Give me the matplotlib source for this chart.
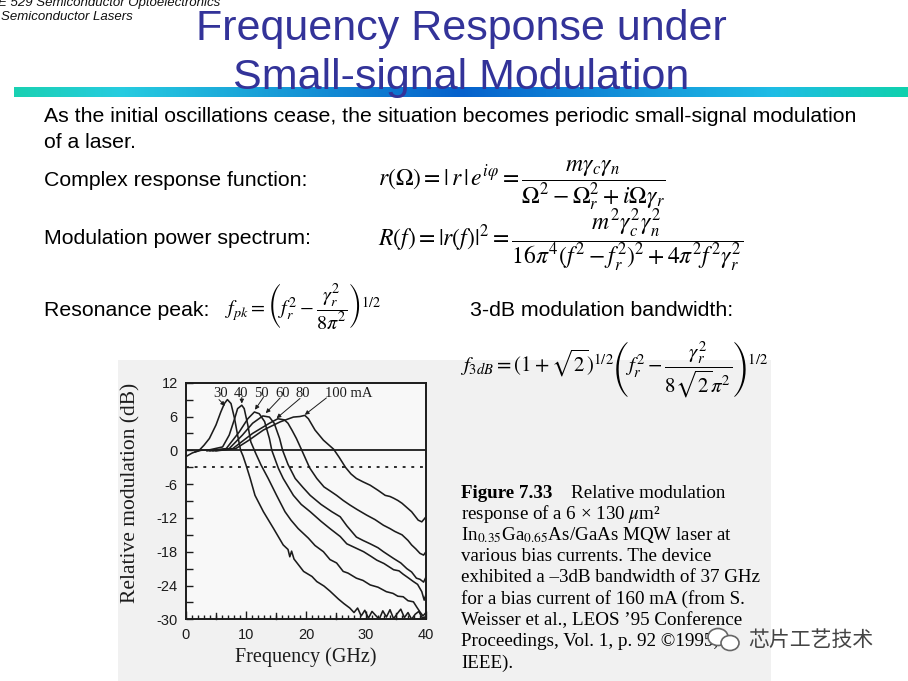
import numpy as np
import matplotlib
matplotlib.use("Agg")
import matplotlib.pyplot as plt
from matplotlib.patches import Rectangle, Ellipse
from matplotlib.ticker import FixedLocator, MultipleLocator

plt.rcParams['mathtext.fontset'] = 'stix'

# ---------------- data ----------------
currents = ["30", "40", "50", "60", "80", "100 mA"]

freq_30 = [0.0, 1.0, 2.2, 3.0, 3.9, 5.0, 5.8, 6.4, 6.9, 7.5, 8.1, 8.6, 9.1, 9.5, 10.0,
           10.7, 11.5, 12.9, 14.6, 16.2, 17.0, 17.3, 17.6, 18.0, 19.6, 21.0, 21.8, 23.0,
           24.0, 25.4, 26.3, 27.3, 28.0, 28.6, 29.2, 29.8, 30.4, 31.0, 31.6, 32.2, 32.8,
           33.4, 34.0, 34.6, 35.2, 35.8, 36.4, 37.0, 37.6, 38.2, 38.8, 39.4, 40.0]
db_30 = [-1.1, -0.5, 0.0, 0.9, 2.1, 4.5, 6.8, 8.3, 9.0, 8.3, 5.6, 2.7, 0.0, -1.0, -2.6,
         -5.0, -8.0, -10.9, -13.9, -16.8, -17.6, -18.9, -17.9, -19.3, -21.5, -22.4, -23.3,
         -24.1, -25.0, -26.4, -27.2, -28.0, -28.8, -28.0, -29.4, -28.4, -29.8, -28.6, -29.3,
         -30.0, -28.5, -29.6, -28.3, -29.9, -29.0, -28.2, -29.7, -28.8, -30.0, -29.1, -28.6,
         -29.8, -29.5]

freq_40 = [1.5, 2.5, 4.0, 6.1, 7.2, 8.1, 8.6, 9.3, 9.7, 10.3, 10.8, 11.6, 12.5, 13.7, 15.1,
           16.5, 17.5, 18.7, 20.4, 21.5, 22.9, 24.0, 25.1, 26.2, 27.0, 28.4, 29.5, 30.7,
           32.0, 33.4, 34.5, 35.3, 36.2, 37.0, 37.9, 38.5, 39.0, 39.5, 40.0]
db_40 = [-0.3, 0.0, 0.1, 0.6, 2.7, 5.6, 7.4, 8.0, 7.4, 4.5, 1.5, -0.5, -2.6, -5.0, -8.0,
         -10.9, -12.4, -13.9, -15.6, -16.9, -18.0, -19.4, -20.0, -21.5, -21.8, -22.7, -23.1,
         -23.9, -24.3, -25.1, -25.4, -25.9, -26.0, -26.7, -26.9, -27.9, -28.7, -29.4, -28.8]

freq_50 = [3.5, 6.7, 8.9, 10.3, 11.4, 12.2, 13.1, 13.9, 14.3, 15.4, 16.2, 17.9, 19.2, 20.7,
           22.5, 24.0, 25.7, 26.8, 28.0, 29.6, 30.8, 31.8, 33.0, 34.6, 35.5, 36.2, 37.0,
           37.9, 38.6, 39.3, 39.7, 40.0]
db_50 = [-0.1, 0.3, 3.3, 5.6, 6.8, 6.5, 5.1, 2.1, 0.0, -3.2, -5.0, -8.0, -9.6, -10.9,
         -12.6, -13.9, -15.3, -16.6, -17.2, -18.0, -18.8, -19.5, -20.1, -21.2, -21.4, -22.0,
         -22.6, -23.3, -23.8, -25.1, -26.6, -25.6]

freq_60 = [4.0, 7.2, 9.4, 11.1, 12.8, 13.9, 14.7, 15.6, 16.1, 17.0, 18.2, 19.5, 20.7, 22.5,
           24.3, 25.7, 26.8, 28.4, 29.5, 30.7, 32.0, 32.9, 34.6, 35.8, 36.8, 37.6, 38.4,
           39.0, 39.6, 40.0]
db_60 = [-0.1, 0.3, 2.7, 4.8, 6.1, 5.9, 4.8, 2.1, 0.0, -2.5, -5.0, -6.6, -8.0, -9.6,
         -10.9, -11.8, -13.4, -15.4, -16.0, -16.6, -17.3, -18.0, -19.2, -20.0, -21.0, -21.6,
         -22.7, -22.9, -23.4, -22.5]

freq_80 = [4.5, 7.8, 11.1, 13.9, 15.3, 16.4, 17.0, 17.7, 18.4, 19.3, 20.6, 21.8, 23.0, 24.0,
           25.1, 26.2, 27.3, 28.5, 30.1, 31.5, 32.9, 34.0, 34.8, 36.0, 37.0, 37.6, 38.3,
           39.0, 39.6, 40.0]
db_80 = [-0.1, 0.3, 3.0, 4.8, 5.6, 5.4, 4.8, 3.5, 2.1, 0.0, -3.1, -5.0, -6.5, -7.2, -8.0,
         -8.9, -9.7, -10.5, -11.5, -12.3, -13.3, -13.9, -14.4, -15.0, -16.0, -16.8, -17.5,
         -18.3, -18.6, -18.0]

freq_100 = [5.0, 8.3, 10.5, 12.9, 15.7, 17.9, 19.0, 19.8, 20.4, 21.5, 22.9, 24.6, 25.5, 26.6,
            27.5, 28.4, 29.5, 30.7, 32.0, 33.2, 34.0, 34.6, 35.3, 36.0, 37.6, 38.7, 39.3,
            39.7, 40.0]
db_100 = [-0.1, 0.3, 1.8, 3.6, 5.05, 5.9, 6.0, 6.2, 5.6, 3.6, 1.8, 0.2, -1.2, -3.05, -4.2,
          -5.0, -5.6, -6.2, -7.1, -8.0, -8.2, -8.5, -8.9, -9.4, -10.9, -12.4, -12.7, -12.2,
          -11.8]

# label positions (GHz, dB) and arrow tips
label_x = [5.7, 9.1, 12.6, 16.1, 19.4, 23.2]
arrow_start = [(5.5, 9.0), (9.3, 9.4), (12.9, 9.4), (15.7, 9.3), (19.0, 9.2), (23.4, 9.3)]
arrow_end = [(6.5, 7.9), (9.3, 8.3), (11.5, 7.2), (13.3, 6.6), (15.1, 5.7), (19.8, 6.3)]

yticks = [12, 6, 0, -6, -12, -18, -24, -30]
xticks = [0, 10, 20, 30, 40]

caption_lines = [
    "response of a 6 \u00d7 130 $\\mu$m\u00b2",
    "In$_{0.35}$Ga$_{0.65}$As/GaAs MQW laser at",
    "various bias currents. The device",
    "exhibited a \u20133dB bandwidth of 37 GHz",
    "for a bias current of 160 mA (from S.",
    "Weisser et al., LEOS \u201995 Conference",
    "Proceedings, Vol. 1, p. 92 \u00a91995,",
    "IEEE).",
]

# ---------------- figure ----------------
W, H = 908, 681
fig = plt.figure(figsize=(W / 100, H / 100), dpi=100)
fig.patch.set_facecolor('white')

bg = fig.add_axes([0, 0, 1, 1], zorder=0)
bg.axis('off')

# scanned page area
bg.add_patch(Rectangle((118, 360), 653, 321, facecolor='#f1f1f1', edgecolor='none'))

# gradient bar
nodes_x = [0.0, 0.12, 0.5, 0.85, 1.0]
nodes_c = [(0.10, 0.82, 0.70), (0.15, 0.80, 0.88), (0.02, 0.38, 0.80),
           (0.12, 0.74, 0.90), (0.06, 0.82, 0.68)]
t = np.linspace(0, 1, 400)
grad = np.zeros((1, 400, 3))
for k in range(3):
    grad[0, :, k] = np.interp(t, nodes_x, [c[k] for c in nodes_c])
bg.imshow(grad, extent=(14, 908, 97, 87), aspect='auto', zorder=1)
bg.set_xlim(0, W)
bg.set_ylim(H, 0)

sans = 'Liberation Sans'
serif = 'Liberation Serif'

bg.text(-2, 3, "E 529 Semiconductor Optoelectronics", fontsize=9.5, style='italic',
        family=sans, va='center', ha='left', color='#111111')
bg.text(1, 17, "Semiconductor Lasers", fontsize=9.5, style='italic',
        family=sans, va='center', ha='left', color='#111111')

bg.text(461, 40, "Frequency Response under", fontsize=31, family=sans,
        color='#333399', ha='center', va='baseline', zorder=4)
bg.text(461, 89, "Small-signal Modulation", fontsize=31, family=sans,
        color='#333399', ha='center', va='baseline', zorder=4)

body = 15.3
bg.text(44, 117, "As the initial oscillations cease, the situation becomes periodic small-signal modulation",
        fontsize=body, family=sans, va='center', ha='left')
bg.text(44, 142, "of a laser.", fontsize=body, family=sans, va='center', ha='left')
bg.text(44, 180, "Complex response function:", fontsize=body, family=sans, va='center')
bg.text(44, 238, "Modulation power spectrum:", fontsize=body, family=sans, va='center')
bg.text(44, 311, "Resonance peak:", fontsize=body, family=sans, va='center')
bg.text(470, 311, "3-dB modulation bandwidth:", fontsize=body, family=sans, va='center')

bg.text(378, 185, r"$r(\Omega) = |\,r\,|\,e^{i\varphi} = \dfrac{m\gamma_c\gamma_n}{\Omega^2-\Omega_r^2+i\Omega\gamma_r}$",
        fontsize=17, va='center', ha='left')
bg.text(378, 241, r"$R(f) = |r(f)|^2 = \dfrac{m^2\gamma_c^2\gamma_n^2}{16\pi^4(f^2-f_r^2)^2+4\pi^2 f^2\gamma_r^2}$",
        fontsize=17, va='center', ha='left')
bg.text(225, 306, r"$f_{pk} = \left(f_r^2 - \dfrac{\gamma_r^2}{8\pi^2}\right)^{1/2}$",
        fontsize=14.5, va='center', ha='left')
bg.text(460, 370, r"$f_{3dB} = (1+\sqrt{2})^{1/2}\left(f_r^2 - \dfrac{\gamma_r^2}{8\sqrt{2}\pi^2}\right)^{1/2}$",
        fontsize=15, va='center', ha='left')

# caption
cap = 13.7
bg.text(461, 493, "Figure 7.33", fontsize=cap, family=serif, weight='bold', va='center')
bg.text(571, 493, "Relative modulation", fontsize=cap, family=serif, va='center')
for i, line in enumerate(caption_lines):
    bg.text(461, 514 + i * 21.3, line, fontsize=cap, family=serif, va='center')

# watermark
bg.add_patch(Ellipse((718, 637), 20, 17, facecolor='white', edgecolor='#666666', lw=1.2, zorder=3))
bg.add_patch(Ellipse((730, 643), 18, 15, facecolor='white', edgecolor='#666666', lw=1.2, zorder=3))
bg.text(748, 640, "芯片工艺技术", fontsize=15, family=['Noto Sans CJK SC', 'DejaVu Sans'],
        color='#444444', va='center', ha='left', zorder=3)

# ---------------- chart ----------------
x0, x1, y0, y1 = 186, 426, 382.7, 619.3
ax = fig.add_axes([x0 / W, (H - y1) / H, (x1 - x0) / W, (y1 - y0) / H], zorder=2)
ax.set_facecolor('#f8f8f8')
ink = '#1c1c1c'

series = [(freq_30, db_30), (freq_40, db_40), (freq_50, db_50),
          (freq_60, db_60), (freq_80, db_80), (freq_100, db_100)]
for f, d in series:
    ax.plot(f, d, color=ink, lw=1.15, solid_joinstyle='round', clip_on=True)

ax.axhline(0, color=ink, lw=1.3)
ax.axhline(-3, color=ink, lw=1.3, ls=(0, (1.6, 3.2)))

ax.set_xlim(0, 40)
ax.set_ylim(-30, 12)

for lbl, lx in zip(currents, label_x):
    ha = 'left' if 'mA' in lbl else 'center'
    ax.text(lx, 10.1, lbl, fontsize=10.5, family=serif, ha=ha, va='center', color=ink)
for s, e in zip(arrow_start, arrow_end):
    ax.annotate("", xy=e, xytext=s,
                arrowprops=dict(arrowstyle='-|>', color=ink, lw=0.7,
                                mutation_scale=6, shrinkA=0, shrinkB=0))

ax.yaxis.set_major_locator(FixedLocator(yticks))
ax.yaxis.set_minor_locator(MultipleLocator(3))
ax.xaxis.set_major_locator(FixedLocator(xticks))
ax.xaxis.set_minor_locator(MultipleLocator(1))
ax.tick_params(axis='both', which='both', direction='in', color=ink, width=1.0,
               top=False, right=False)
ax.tick_params(axis='y', which='major', length=5, labelsize=10.5, pad=6)
ax.tick_params(axis='y', which='minor', length=5)
ax.tick_params(axis='x', which='major', length=6, labelsize=10.5, pad=6)
ax.tick_params(axis='x', which='minor', length=3)
ax.set_yticklabels([str(v) for v in yticks])
ax.set_xticklabels([str(v) for v in xticks])
for lab in ax.get_xticklabels() + ax.get_yticklabels():
    lab.set_family(sans)
    lab.set_color(ink)
# medium ticks at 5 GHz steps
for xv in [5, 15, 25, 35]:
    ax.plot([xv, xv], [-30, -30 + 6 * 42 / 236.6], color=ink, lw=1.0, clip_on=False)

for sp in ax.spines.values():
    sp.set_color(ink)
    sp.set_linewidth(1.4)

ax.set_xlabel("Frequency (GHz)", fontsize=14.5, family=serif, color=ink, labelpad=4)
ax.set_ylabel("Relative modulation (dB)", fontsize=15.5, family=serif, color=ink)
ax.yaxis.set_label_coords(-0.19, 0.535)

fig.savefig("out.png", dpi=100, facecolor='white')
